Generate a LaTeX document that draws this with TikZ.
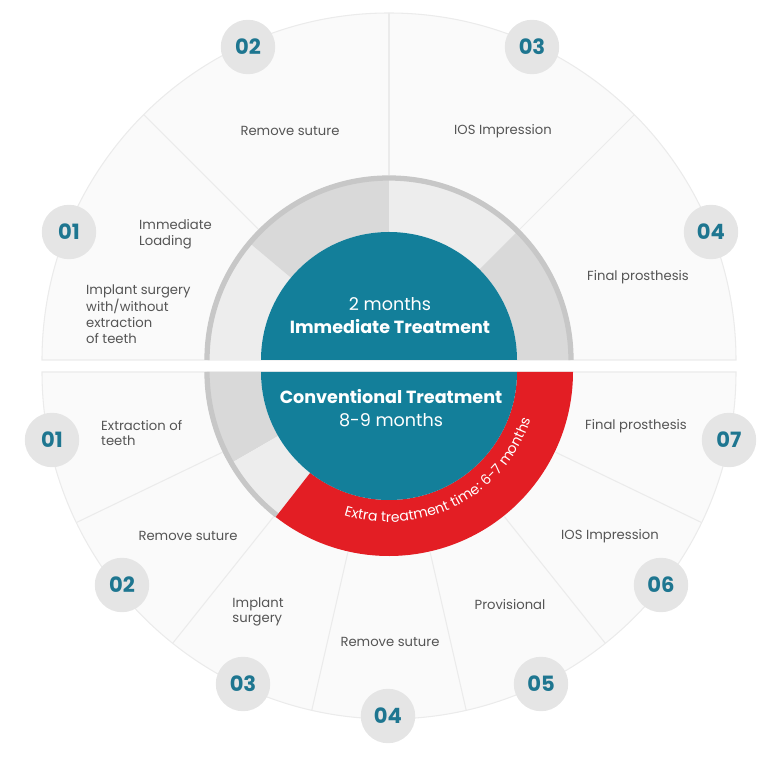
\documentclass[tikz,border=0pt]{standalone}
\usepackage{fontspec}
\setmainfont{Poppins}
\usetikzlibrary{decorations.text}
\definecolor{teal}{HTML}{137F9A}
\definecolor{numcol}{HTML}{1E7690}
\definecolor{redarc}{HTML}{E31E24}
\definecolor{txtgray}{HTML}{555555}
\tikzset{
  step label/.style={font=\fontsize{7.5}{9}\selectfont, text=txtgray, align=left},
  num disc/.style={circle, fill=black!10, minimum size=31pt, inner sep=0pt,
    font=\fontsize{12}{14}\selectfont\bfseries, text=numcol},
  sector line/.style={draw=black!8, line width=0.6pt},
  title text/.style={text=white, font=\fontsize{10}{12}\selectfont}
}
\begin{document}
\begin{tikzpicture}[x=0.02cm,y=0.02cm]
\useasboundingbox (0,0) rectangle (768,764);

% top half
\coordinate (ct) at (389,404);
\fill[black!2] (ct) ++(0:347) arc (0:180:347) -- cycle;
\foreach \a in {45,90,135}
  \draw[sector line] (ct) ++(\a:185) -- ++(\a:162);
\draw[sector line] (ct) ++(0:347) arc (0:180:347) -- cycle;

% bottom half
\coordinate (cb) at (389,392);
\fill[black!2] (cb) ++(0:347) arc (0:-180:347) -- cycle;
\foreach \k in {1,...,6}
  \draw[sector line] (cb) ++(-180+\k*25.714:185) -- ++(-180+\k*25.714:162);
\draw[sector line] (cb) ++(0:347) arc (0:-180:347) -- cycle;

% top ring
\fill[black!7] (ct) ++(180:184) arc (180:140:184) -- ++(140:-56) arc (140:180:128) -- cycle;
\fill[black!15] (ct) ++(140:184) arc (140:90:184) -- ++(90:-56) arc (90:140:128) -- cycle;
\fill[black!7] (ct) ++(90:184) arc (90:45:184) -- ++(45:-56) arc (45:90:128) -- cycle;
\fill[black!15] (ct) ++(45:184) arc (45:0:184) -- ++(0:-56) arc (0:45:128) -- cycle;
\draw[black!22, line width=3pt] (ct) ++(0:182) arc (0:180:182);
\fill[teal] (ct) ++(0:128) arc (0:180:128) -- cycle;

% bottom ring
\fill[black!15] (cb) ++(180:184) arc (180:210:184) -- ++(210:-56) arc (210:180:128) -- cycle;
\fill[black!7] (cb) ++(210:184) arc (210:232:184) -- ++(232:-56) arc (232:210:128) -- cycle;
\draw[black!22, line width=3pt] (cb) ++(180:182) arc (180:232:182);
\fill[redarc] (cb) ++(232:184) arc (232:360:184) -- ++(0:-56) arc (360:232:128) -- cycle;
\fill[teal] (cb) ++(0:128) arc (0:-180:128) -- cycle;
\path[decorate, decoration={text along path, text align=center,
  text={|\fontsize{8}{9}\selectfont\color{white}|Extra treatment time: 6-7 months}}]
  (cb) ++(238:150) arc (238:356:150);

% centre titles
\node[title text] (imtime) at (390,460) {2 months};
\node[title text, font=\fontsize{10}{12}\selectfont\bfseries] (imtitle) at (390,437) {Immediate Treatment};
\node[title text, font=\fontsize{10}{12}\selectfont\bfseries] (cvtitle) at (391,367) {Conventional Treatment};
\node[title text] (cvtime) at (391,344) {8-9 months};

% top numbers and labels
\node[num disc] (t1) at (69,532) {01};
\node[num disc] (t2) at (248,717) {02};
\node[num disc] (t3) at (532,717) {03};
\node[num disc] (t4) at (711,532) {04};
\node[step label] (lt2) at (290,633) {Remove suture};
\node[step label] (lt3) at (503,633) {IOS Impression};
\node[step label, anchor=west] (lt1a) at (133,530) {Immediate\\Loading};
\node[step label, anchor=west] (lt1b) at (80,450) {Implant surgery\\with/without\\extraction\\of teeth};
\node[step label] (lt4) at (638,487) {Final prosthesis};

% bottom numbers and labels
\node[num disc] (b1) at (52,324) {01};
\node[num disc] (b2) at (122,179) {02};
\node[num disc] (b3) at (243,80) {03};
\node[num disc] (b4) at (388,48) {04};
\node[num disc] (b5) at (541,80) {05};
\node[num disc] (b6) at (661,179) {06};
\node[num disc] (b7) at (729,324) {07};
\node[step label, anchor=west] (lb1) at (95,331) {Extraction of\\teeth};
\node[step label] (lb2) at (188,228) {Remove suture};
\node[step label] (lb3) at (258,152) {Implant\\surgery};
\node[step label] (lb4) at (390,122) {Remove suture};
\node[step label] (lb5) at (510,159) {Provisional};
\node[step label] (lb6) at (610,228) {IOS Impression};
\node[step label] (lb7) at (636,338) {Final prosthesis};
\end{tikzpicture}
\end{document}
